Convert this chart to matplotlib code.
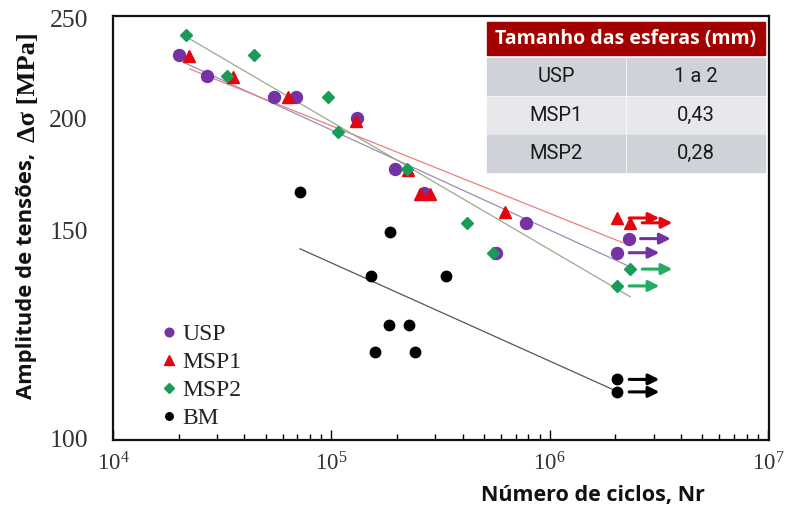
import numpy as np
import matplotlib
matplotlib.use("Agg")
import matplotlib.pyplot as plt
from matplotlib.patches import Rectangle
from matplotlib.lines import Line2D
from matplotlib.ticker import NullLocator

plt.rcParams["mathtext.fontset"] = "stix"

# S-N data (cycles, stress amplitude in MPa)
usp_n = [2.0e4, 2.7e4, 5.45e4, 6.9e4, 1.31e5, 1.95e5, 2.66e5, 5.68e5, 7.8e5]
usp_s = [230.2, 219.7, 209.6, 209.6, 199.8, 175.4, 165.0, 143.5, 152.8]
usp_runout_n = [2.30e6, 2.04e6]
usp_runout_s = [147.5, 143.5]

msp1_n = [2.23e4, 3.54e4, 6.33e4, 1.30e5, 2.25e5, 2.55e5, 2.83e5, 6.25e5]
msp1_s = [229.7, 219.2, 209.6, 198.5, 175.0, 164.4, 164.4, 157.1]
msp1_runout_n = [2.04e6, 2.34e6]
msp1_runout_s = [154.7, 152.8]

msp2_n = [2.15e4, 3.32e4, 4.43e4, 9.66e4, 1.07e5, 2.22e5, 4.17e5, 5.49e5]
msp2_s = [240.7, 219.7, 230.2, 209.6, 192.9, 175.4, 152.8, 143.5]
msp2_runout_n = [2.34e6, 2.04e6]
msp2_runout_s = [139.0, 134.5]

bm_n = [7.19e4, 1.52e5, 1.59e5, 1.83e5, 1.86e5, 2.26e5, 2.42e5, 3.35e5]
bm_s = [165.4, 137.1, 118.3, 124.6, 149.4, 124.6, 118.3, 137.1]
bm_runout_n = [2.04e6, 2.04e6]
bm_runout_s = [112.1, 109.4]

# fitted curves (end points)
usp_fit_n = [2.09e4, 2.34e6]
usp_fit_s = [226.6, 139.6]
msp1_fit_n = [2.25e4, 2.17e6]
msp1_fit_s = [223.1, 146.3]
msp2_fit_n = [2.21e4, 2.34e6]
msp2_fit_s = [239.1, 131.7]
bm_fit_n = [7.19e4, 2.04e6]
bm_fit_s = [144.6, 109.5]

y_ticks = [100, 150, 200, 250]
table_header = "Tamanho das esferas (mm)"
table_names = ["USP", "MSP1", "MSP2"]
table_sizes = ["1 a 2", "0,43", "0,28"]

W, H = 789, 509
fig = plt.figure(figsize=(W / 100, H / 100), dpi=100)


def fx(px):
    return px / W


def fy(py):
    return 1 - py / H


ax = fig.add_axes([fx(113), fy(440), (769 - 113) / W, (440 - 16) / H])

# the stress axis of the source figure is not evenly logarithmic,
# so use a piecewise log scale calibrated on its tick marks
cal_v = np.array([90, 100, 150, 200, 250, 280])
cal_p = np.array([-54.0, 0, 208, 320, 420, 470.8])


def fwd(y):
    with np.errstate(all="ignore"):
        return np.interp(np.log10(np.asarray(y, float)), np.log10(cal_v), cal_p)


def inv(p):
    return 10 ** np.interp(np.asarray(p, float), cal_p, np.log10(cal_v))


ax.set_xscale("log")
ax.set_yscale("function", functions=(fwd, inv))
ax.set_xlim(1e4, 10 ** (4 + (769 - 113) / 218.3))
ax.set_ylim(float(inv(-2)), float(inv(422)))

series = [
    ("USP", usp_n, usp_s, usp_runout_n, usp_runout_s, usp_fit_n, usp_fit_s,
     "o", 8.6, "#7432a4", "#a08ab8"),
    ("MSP1", msp1_n, msp1_s, msp1_runout_n, msp1_runout_s, msp1_fit_n, msp1_fit_s,
     "^", 9.2, "#e3060f", "#e88080"),
    ("MSP2", msp2_n, msp2_s, msp2_runout_n, msp2_runout_s, msp2_fit_n, msp2_fit_s,
     "D", 6.5, "#1b9b58", "#9aaa8e"),
    ("BM", bm_n, bm_s, bm_runout_n, bm_runout_s, bm_fit_n, bm_fit_s,
     "o", 7.5, "#000000", "#555555"),
]

arrow_colors = {"USP": "#7432a4", "MSP1": "#e3060f", "MSP2": "#22ad62", "BM": "#000000"}

handles = []
for name, n, s, rn, rs, fn, fs, mk, ms, col, lcol in series:
    ax.plot(fn, fs, color=lcol, lw=0.9, zorder=1)
    ax.plot(n + rn, s + rs, ls="none", marker=mk, ms=ms, color=col, mec=col, zorder=3)
    for x, y in zip(rn, rs):
        ax.annotate("", xy=(x * 1.56, y), xytext=(x * 1.135, y),
                    arrowprops=dict(arrowstyle="-|>", color=arrow_colors[name],
                                    lw=2.2, mutation_scale=16, shrinkA=0, shrinkB=0))
    handles.append(Line2D([], [], ls="none", marker=mk, ms=ms * 0.72, color=col, label=name))

leg = ax.legend(handles=handles, loc="lower left", bbox_to_anchor=(0.075, 0.025),
                frameon=False, prop={"family": "Liberation Serif", "size": 17},
                handlelength=0.6, handletextpad=0.25, labelspacing=0.28,
                borderpad=0, borderaxespad=0)
for t in leg.get_texts():
    t.set_color("#222222")

# ticks
ax.tick_params(axis="x", which="both", direction="in", top=False, width=1)
ax.tick_params(axis="x", which="major", length=7, pad=9)
ax.tick_params(axis="x", which="minor", length=4)
ax.set_yticks(y_ticks)
ax.set_yticklabels([str(v) for v in y_ticks])
ax.yaxis.set_minor_locator(NullLocator())
ax.set_yticks([200], minor=True)
ax.tick_params(axis="y", which="major", length=0, pad=18)
ax.tick_params(axis="y", which="minor", direction="in", length=5, width=1.5, right=False)
for lab in ax.get_xticklabels():
    lab.set_fontfamily("Liberation Serif")
    lab.set_fontsize(16.5)
    lab.set_color("#333333")
for lab in ax.get_yticklabels():
    lab.set_fontfamily("Liberation Serif")
    lab.set_fontsize(18.5)
    lab.set_color("#333333")
for sp in ax.spines.values():
    sp.set_linewidth(1.6)
    sp.set_color("#111111")

# axis titles
fig.text(fx(593), fy(495), "Número de ciclos, Nr", ha="center", va="center",
         family="Open Sans", weight="bold", fontsize=15.5, color="#111111")
fig.text(fx(27), fy(399), "Amplitude de tensões,", rotation=90, ha="center", va="bottom",
         family="Open Sans", weight="bold", fontsize=15.8, color="#111111")
fig.text(fx(28), fy(142), "Δσ [MPa]", rotation=90, ha="center", va="bottom",
         family="Liberation Serif", weight="bold", fontsize=19, color="#111111")

# inset table
fig.add_artist(Rectangle((fx(487), fy(55)), (765 - 487) / W, 33 / H,
                         transform=fig.transFigure, color="#a30000", zorder=5))
fig.text(fx(626), fy(39), table_header, ha="center", va="center", color="white",
         family="Open Sans", weight="bold", fontsize=14, zorder=6)
row_tops = [58, 97, 135]
row_colors = ["#cfd3d9", "#e6e8eb", "#cfd3d9"]
for i, (nm, sz) in enumerate(zip(table_names, table_sizes)):
    top = row_tops[i]
    for x0, x1, txt in [(487, 625, nm), (627, 765, sz)]:
        fig.add_artist(Rectangle((fx(x0), fy(top + 37)), (x1 - x0) / W, 37 / H,
                                 transform=fig.transFigure, color=row_colors[i], zorder=5))
        fig.text(fx((x0 + x1) / 2), fy(top + 18.5), txt, ha="center", va="center",
                 family="Roboto", fontsize=14.5, color="#1a1a1a", zorder=6)

fig.savefig("out.png", dpi=100)
